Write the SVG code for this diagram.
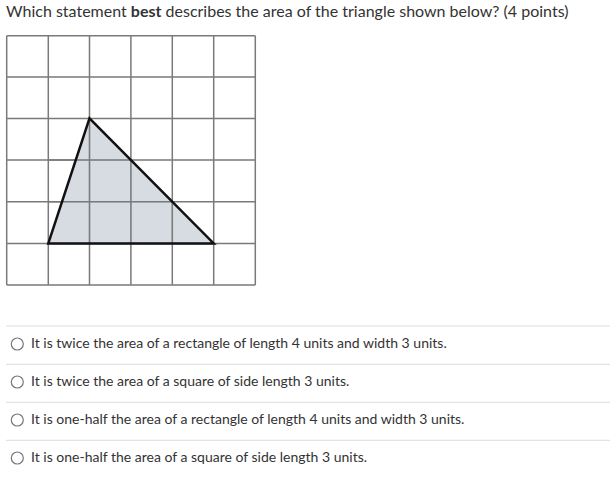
<svg xmlns="http://www.w3.org/2000/svg" width="610" height="485" viewBox="0 0 610 485">
<style>
.t{font-family:Lato,"Liberation Sans",sans-serif;fill:#333;}
.opt{font-size:14px;}
.g{stroke:#7a7a7a;stroke-width:1.5;fill:none;}
.sep{stroke:#dcdcdc;stroke-width:1;}
.rad{fill:#fff;stroke:#777;stroke-width:1.2;}
</style>
<rect width="610" height="485" fill="#fff"/>
<text class="t" x="6" y="17" font-size="16">Which statement <tspan font-weight="bold">best</tspan> describes the area of the triangle shown below? (4 points)</text>
<g id="grid">
<path class="g" d="M6.7 35.7V285M48.3 35.7V285M89.5 35.7V285M130.9 35.7V285M172.3 35.7V285M213.7 35.7V285M255.3 35.7V285M6.7 35.7H255.3M6.7 77H255.3M6.7 118.4H255.3M6.7 160H255.3M6.7 201.7H255.3M6.7 243.4H255.3M6.7 285H255.3"/>
</g>
<g id="triangle">
<polygon points="48.3,243.4 89.5,118.4 213.7,243.4" fill="#cfd6dc" fill-opacity="0.85" stroke="none"/>
<path class="g" d="M89.5 118.4V243.4M130.9 160V243.4M172.3 201.7V243.4M48.3 201.7H172.3M48.3 160H130.9"/>
<polygon points="48.3,243.4 89.5,118.4 213.7,243.4" fill="none" stroke="#111" stroke-width="2.5" stroke-linejoin="miter"/>
</g>
<g id="options">
<line class="sep" x1="6" y1="326" x2="610" y2="326"/>
<line class="sep" x1="6" y1="364.3" x2="610" y2="364.3"/>
<line class="sep" x1="6" y1="402.3" x2="610" y2="402.3"/>
<line class="sep" x1="6" y1="440.3" x2="610" y2="440.3"/>
<circle class="rad" cx="17.3" cy="344" r="6"/>
<circle class="rad" cx="17.3" cy="382" r="6"/>
<circle class="rad" cx="17.3" cy="420" r="6"/>
<circle class="rad" cx="17.3" cy="458" r="6"/>
<text class="t opt" x="31" y="348">It is twice the area of a rectangle of length 4 units and width 3 units.</text>
<text class="t opt" x="31" y="386">It is twice the area of a square of side length 3 units.</text>
<text class="t opt" x="31" y="424">It is one-half the area of a rectangle of length 4 units and width 3 units.</text>
<text class="t opt" x="31" y="462">It is one-half the area of a square of side length 3 units.</text>
</g>
</svg>
